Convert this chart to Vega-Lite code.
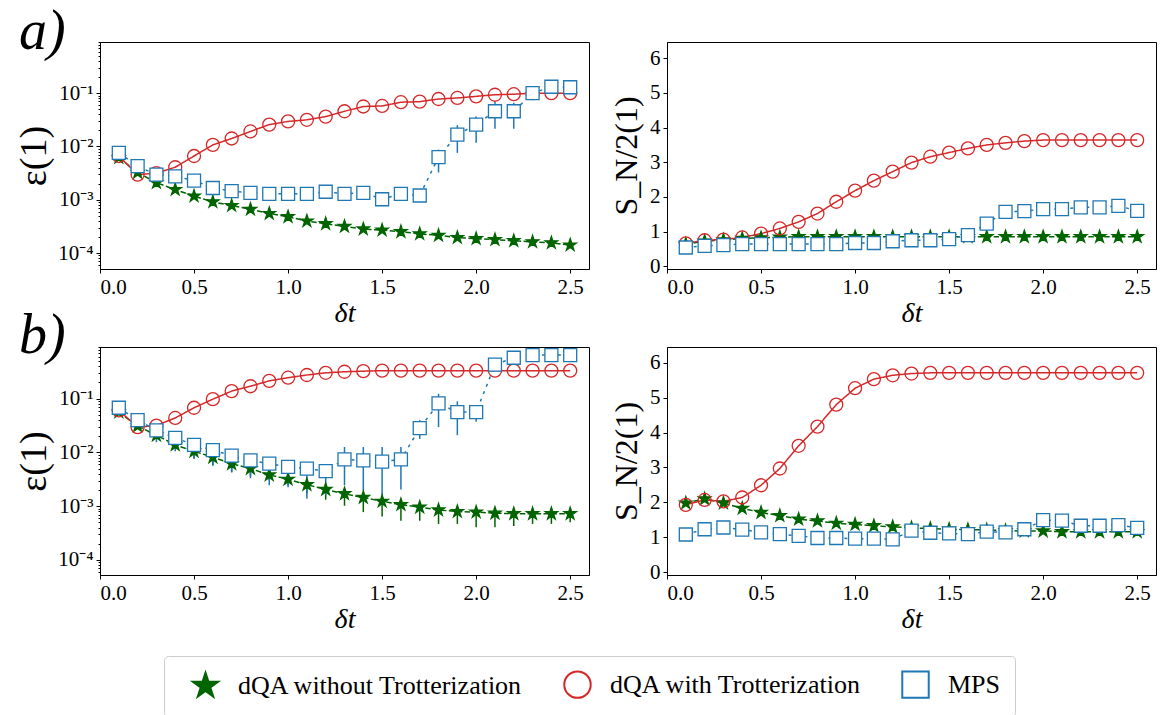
{
  "$schema": "https://vega.github.io/schema/vega-lite/v6.json",
  "background": "white",
  "padding": {"left": 15, "top": 3, "right": 5, "bottom": 2},
  "config": {
    "view": {"stroke": "#000", "strokeWidth": 1},
    "axis": {"labelFont": "Liberation Serif", "labelFontSize": 21, "labelColor": "#000", "labelOverlap": false, "labelSeparation": 0, "labelBound": false, "titleFont": "Liberation Serif", "titleColor": "#000", "titleFontWeight": "normal", "domainColor": "#000", "tickColor": "#000", "tickSize": 4, "grid": false, "labelPadding": 3},
    "legend": {"labelFont": "Liberation Serif"}
  },
  "datasets": {
    "aL": [
      {"s":"noTrot","x":0.1,"y":0.00617},{"s":"noTrot","x":0.2,"y":0.00324},{"s":"noTrot","x":0.3,"y":0.00209},{"s":"noTrot","x":0.4,"y":0.00155},{"s":"noTrot","x":0.5,"y":0.00117},{"s":"noTrot","x":0.6,"y":0.000912},{"s":"noTrot","x":0.7,"y":0.000776},{"s":"noTrot","x":0.8,"y":0.000661},{"s":"noTrot","x":0.9,"y":0.00055},{"s":"noTrot","x":1.0,"y":0.000479},{"s":"noTrot","x":1.1,"y":0.000398},{"s":"noTrot","x":1.2,"y":0.000355},{"s":"noTrot","x":1.3,"y":0.000316},{"s":"noTrot","x":1.4,"y":0.000282},{"s":"noTrot","x":1.5,"y":0.000269},{"s":"noTrot","x":1.6,"y":0.000251},{"s":"noTrot","x":1.7,"y":0.000229},{"s":"noTrot","x":1.8,"y":0.000214},{"s":"noTrot","x":1.9,"y":0.000195},{"s":"noTrot","x":2.0,"y":0.000186},{"s":"noTrot","x":2.1,"y":0.000178},{"s":"noTrot","x":2.2,"y":0.00017},{"s":"noTrot","x":2.3,"y":0.000162},{"s":"noTrot","x":2.4,"y":0.000155},{"s":"noTrot","x":2.5,"y":0.000141},
      {"s":"Trot","x":0.1,"y":0.00661},{"s":"Trot","x":0.2,"y":0.00295},{"s":"Trot","x":0.3,"y":0.00316},{"s":"Trot","x":0.4,"y":0.00407},{"s":"Trot","x":0.5,"y":0.00661},{"s":"Trot","x":0.6,"y":0.0107},{"s":"Trot","x":0.7,"y":0.0141},{"s":"Trot","x":0.8,"y":0.0191},{"s":"Trot","x":0.9,"y":0.0257},{"s":"Trot","x":1.0,"y":0.0295},{"s":"Trot","x":1.1,"y":0.0316},{"s":"Trot","x":1.2,"y":0.0363},{"s":"Trot","x":1.3,"y":0.0457},{"s":"Trot","x":1.4,"y":0.0562},{"s":"Trot","x":1.5,"y":0.0575},{"s":"Trot","x":1.6,"y":0.0676},{"s":"Trot","x":1.7,"y":0.0692},{"s":"Trot","x":1.8,"y":0.0776},{"s":"Trot","x":1.9,"y":0.0813},{"s":"Trot","x":2.0,"y":0.0871},{"s":"Trot","x":2.1,"y":0.0933},{"s":"Trot","x":2.2,"y":0.0955},{"s":"Trot","x":2.3,"y":0.1},{"s":"Trot","x":2.4,"y":0.1},{"s":"Trot","x":2.5,"y":0.1},
      {"s":"MPS","x":0.1,"y":0.00759},{"s":"MPS","x":0.2,"y":0.00427},{"s":"MPS","x":0.3,"y":0.00295},{"s":"MPS","x":0.4,"y":0.00275},{"s":"MPS","x":0.5,"y":0.00229},{"s":"MPS","x":0.6,"y":0.00166},{"s":"MPS","x":0.7,"y":0.00145},{"s":"MPS","x":0.8,"y":0.00135},{"s":"MPS","x":0.9,"y":0.00129},{"s":"MPS","x":1.0,"y":0.00129},{"s":"MPS","x":1.1,"y":0.00129},{"s":"MPS","x":1.2,"y":0.00141},{"s":"MPS","x":1.3,"y":0.00129},{"s":"MPS","x":1.4,"y":0.00135},{"s":"MPS","x":1.5,"y":0.00102},{"s":"MPS","x":1.6,"y":0.00129},{"s":"MPS","x":1.7,"y":0.0012},{"s":"MPS","x":1.8,"y":0.00631,"lo":0.00324,"hi":0.00871},{"s":"MPS","x":1.9,"y":0.0166,"lo":0.00759,"hi":0.0251},{"s":"MPS","x":2.0,"y":0.0257,"lo":0.0117,"hi":0.0363},{"s":"MPS","x":2.1,"y":0.0457,"lo":0.0214,"hi":0.0692},{"s":"MPS","x":2.2,"y":0.0457,"lo":0.0214,"hi":0.0661},{"s":"MPS","x":2.3,"y":0.1},{"s":"MPS","x":2.4,"y":0.132},{"s":"MPS","x":2.5,"y":0.129}
    ],
    "aR": [
      {"s":"noTrot","x":0.1,"y":0.64},{"s":"noTrot","x":0.2,"y":0.72},{"s":"noTrot","x":0.3,"y":0.76},{"s":"noTrot","x":0.4,"y":0.8},{"s":"noTrot","x":0.5,"y":0.82},{"s":"noTrot","x":0.6,"y":0.84},{"s":"noTrot","x":0.7,"y":0.85},{"s":"noTrot","x":0.8,"y":0.85},{"s":"noTrot","x":0.9,"y":0.85},{"s":"noTrot","x":1.0,"y":0.85},{"s":"noTrot","x":1.1,"y":0.85},{"s":"noTrot","x":1.2,"y":0.85},{"s":"noTrot","x":1.3,"y":0.85},{"s":"noTrot","x":1.4,"y":0.85},{"s":"noTrot","x":1.5,"y":0.85},{"s":"noTrot","x":1.6,"y":0.85},{"s":"noTrot","x":1.7,"y":0.85},{"s":"noTrot","x":1.8,"y":0.85},{"s":"noTrot","x":1.9,"y":0.85},{"s":"noTrot","x":2.0,"y":0.85},{"s":"noTrot","x":2.1,"y":0.85},{"s":"noTrot","x":2.2,"y":0.85},{"s":"noTrot","x":2.3,"y":0.85},{"s":"noTrot","x":2.4,"y":0.85},{"s":"noTrot","x":2.5,"y":0.85},
      {"s":"Trot","x":0.1,"y":0.66},{"s":"Trot","x":0.2,"y":0.75},{"s":"Trot","x":0.3,"y":0.77},{"s":"Trot","x":0.4,"y":0.83},{"s":"Trot","x":0.5,"y":0.94},{"s":"Trot","x":0.6,"y":1.09},{"s":"Trot","x":0.7,"y":1.28},{"s":"Trot","x":0.8,"y":1.52},{"s":"Trot","x":0.9,"y":1.86},{"s":"Trot","x":1.0,"y":2.18},{"s":"Trot","x":1.1,"y":2.47},{"s":"Trot","x":1.2,"y":2.73},{"s":"Trot","x":1.3,"y":2.99},{"s":"Trot","x":1.4,"y":3.16},{"s":"Trot","x":1.5,"y":3.28},{"s":"Trot","x":1.6,"y":3.4},{"s":"Trot","x":1.7,"y":3.5},{"s":"Trot","x":1.8,"y":3.56},{"s":"Trot","x":1.9,"y":3.61},{"s":"Trot","x":2.0,"y":3.64},{"s":"Trot","x":2.1,"y":3.64},{"s":"Trot","x":2.2,"y":3.64},{"s":"Trot","x":2.3,"y":3.64},{"s":"Trot","x":2.4,"y":3.64},{"s":"Trot","x":2.5,"y":3.64},
      {"s":"MPS","x":0.1,"y":0.54},{"s":"MPS","x":0.2,"y":0.59},{"s":"MPS","x":0.3,"y":0.61},{"s":"MPS","x":0.4,"y":0.64},{"s":"MPS","x":0.5,"y":0.64},{"s":"MPS","x":0.6,"y":0.64},{"s":"MPS","x":0.7,"y":0.64},{"s":"MPS","x":0.8,"y":0.64},{"s":"MPS","x":0.9,"y":0.64},{"s":"MPS","x":1.0,"y":0.67},{"s":"MPS","x":1.1,"y":0.67},{"s":"MPS","x":1.2,"y":0.72},{"s":"MPS","x":1.3,"y":0.75},{"s":"MPS","x":1.4,"y":0.75},{"s":"MPS","x":1.5,"y":0.78},{"s":"MPS","x":1.6,"y":0.9},{"s":"MPS","x":1.7,"y":1.23},{"s":"MPS","x":1.8,"y":1.57},{"s":"MPS","x":1.9,"y":1.59},{"s":"MPS","x":2.0,"y":1.65},{"s":"MPS","x":2.1,"y":1.65},{"s":"MPS","x":2.2,"y":1.7},{"s":"MPS","x":2.3,"y":1.7},{"s":"MPS","x":2.4,"y":1.74},{"s":"MPS","x":2.5,"y":1.6}
    ],
    "bL": [
      {"s":"noTrot","x":0.1,"y":0.0562},{"s":"noTrot","x":0.2,"y":0.0309},{"s":"noTrot","x":0.3,"y":0.0209},{"s":"noTrot","x":0.4,"y":0.0138},{"s":"noTrot","x":0.5,"y":0.0105,"lo":0.00759,"hi":0.0105},{"s":"noTrot","x":0.6,"y":0.00813,"lo":0.00575,"hi":0.00813},{"s":"noTrot","x":0.7,"y":0.00617,"lo":0.00427,"hi":0.00617},{"s":"noTrot","x":0.8,"y":0.00501,"lo":0.00363,"hi":0.00501},{"s":"noTrot","x":0.9,"y":0.0038,"lo":0.00302,"hi":0.0038},{"s":"noTrot","x":1.0,"y":0.00316,"lo":0.00245,"hi":0.00316},{"s":"noTrot","x":1.1,"y":0.00251,"lo":0.0017,"hi":0.00251},{"s":"noTrot","x":1.2,"y":0.00204,"lo":0.00132,"hi":0.00204},{"s":"noTrot","x":1.3,"y":0.0017,"lo":0.00102,"hi":0.0017},{"s":"noTrot","x":1.4,"y":0.00145,"lo":0.000776,"hi":0.00145},{"s":"noTrot","x":1.5,"y":0.00123,"lo":0.000646,"hi":0.00123},{"s":"noTrot","x":1.6,"y":0.00107,"lo":0.000537,"hi":0.00107},{"s":"noTrot","x":1.7,"y":0.000955,"lo":0.000537,"hi":0.000955},{"s":"noTrot","x":1.8,"y":0.000851,"lo":0.000468,"hi":0.000851},{"s":"noTrot","x":1.9,"y":0.000794,"lo":0.000468,"hi":0.000794},{"s":"noTrot","x":2.0,"y":0.000776,"lo":0.000407,"hi":0.000776},{"s":"noTrot","x":2.1,"y":0.000741,"lo":0.000407,"hi":0.000741},{"s":"noTrot","x":2.2,"y":0.000724,"lo":0.000427,"hi":0.000724},{"s":"noTrot","x":2.3,"y":0.000724,"lo":0.000468,"hi":0.000724},{"s":"noTrot","x":2.4,"y":0.000724,"lo":0.000468,"hi":0.000724},{"s":"noTrot","x":2.5,"y":0.000724,"lo":0.000501,"hi":0.000724},
      {"s":"Trot","x":0.1,"y":0.0603},{"s":"Trot","x":0.2,"y":0.0295},{"s":"Trot","x":0.3,"y":0.0316},{"s":"Trot","x":0.4,"y":0.0437},{"s":"Trot","x":0.5,"y":0.0676},{"s":"Trot","x":0.6,"y":0.0977},{"s":"Trot","x":0.7,"y":0.138},{"s":"Trot","x":0.8,"y":0.17},{"s":"Trot","x":0.9,"y":0.214},{"s":"Trot","x":1.0,"y":0.245},{"s":"Trot","x":1.1,"y":0.275},{"s":"Trot","x":1.2,"y":0.302},{"s":"Trot","x":1.3,"y":0.316},{"s":"Trot","x":1.4,"y":0.324},{"s":"Trot","x":1.5,"y":0.331},{"s":"Trot","x":1.6,"y":0.331},{"s":"Trot","x":1.7,"y":0.331},{"s":"Trot","x":1.8,"y":0.331},{"s":"Trot","x":1.9,"y":0.331},{"s":"Trot","x":2.0,"y":0.331},{"s":"Trot","x":2.1,"y":0.331},{"s":"Trot","x":2.2,"y":0.331},{"s":"Trot","x":2.3,"y":0.331},{"s":"Trot","x":2.4,"y":0.331},{"s":"Trot","x":2.5,"y":0.331},
      {"s":"MPS","x":0.1,"y":0.0676},{"s":"MPS","x":0.2,"y":0.0398},{"s":"MPS","x":0.3,"y":0.0257,"lo":0.0155,"hi":0.0257},{"s":"MPS","x":0.4,"y":0.0186,"lo":0.0105,"hi":0.0186},{"s":"MPS","x":0.5,"y":0.0138,"lo":0.00776,"hi":0.0138},{"s":"MPS","x":0.6,"y":0.011,"lo":0.00562,"hi":0.011},{"s":"MPS","x":0.7,"y":0.00871,"lo":0.00427,"hi":0.00871},{"s":"MPS","x":0.8,"y":0.00708,"lo":0.00331,"hi":0.00708},{"s":"MPS","x":0.9,"y":0.00617,"lo":0.00245,"hi":0.00617},{"s":"MPS","x":1.0,"y":0.00537,"lo":0.00224,"hi":0.00537},{"s":"MPS","x":1.1,"y":0.00501,"lo":0.00138,"hi":0.00501},{"s":"MPS","x":1.2,"y":0.00447,"lo":0.00162,"hi":0.00447},{"s":"MPS","x":1.3,"y":0.00741,"lo":0.00245,"hi":0.0126},{"s":"MPS","x":1.4,"y":0.00708,"lo":0.00195,"hi":0.0126},{"s":"MPS","x":1.5,"y":0.00676,"lo":0.00158,"hi":0.0126},{"s":"MPS","x":1.6,"y":0.00741,"lo":0.00204,"hi":0.0126},{"s":"MPS","x":1.7,"y":0.0282,"lo":0.0178,"hi":0.0398},{"s":"MPS","x":1.8,"y":0.0813,"lo":0.0295,"hi":0.123},{"s":"MPS","x":1.9,"y":0.0562,"lo":0.0209,"hi":0.0891},{"s":"MPS","x":2.0,"y":0.0562,"lo":0.0372,"hi":0.0759},{"s":"MPS","x":2.1,"y":0.427},{"s":"MPS","x":2.2,"y":0.575},{"s":"MPS","x":2.3,"y":0.646},{"s":"MPS","x":2.4,"y":0.646},{"s":"MPS","x":2.5,"y":0.646}
    ],
    "bR": [
      {"s":"noTrot","x":0.1,"y":1.98},{"s":"noTrot","x":0.2,"y":2.1},{"s":"noTrot","x":0.3,"y":1.98},{"s":"noTrot","x":0.4,"y":1.83},{"s":"noTrot","x":0.5,"y":1.71},{"s":"noTrot","x":0.6,"y":1.62},{"s":"noTrot","x":0.7,"y":1.52},{"s":"noTrot","x":0.8,"y":1.47},{"s":"noTrot","x":0.9,"y":1.4},{"s":"noTrot","x":1.0,"y":1.37},{"s":"noTrot","x":1.1,"y":1.33},{"s":"noTrot","x":1.2,"y":1.3},{"s":"noTrot","x":1.3,"y":1.27},{"s":"noTrot","x":1.4,"y":1.25},{"s":"noTrot","x":1.5,"y":1.23},{"s":"noTrot","x":1.6,"y":1.22},{"s":"noTrot","x":1.7,"y":1.21},{"s":"noTrot","x":1.8,"y":1.19},{"s":"noTrot","x":1.9,"y":1.18},{"s":"noTrot","x":2.0,"y":1.18},{"s":"noTrot","x":2.1,"y":1.16},{"s":"noTrot","x":2.2,"y":1.16},{"s":"noTrot","x":2.3,"y":1.16},{"s":"noTrot","x":2.4,"y":1.16},{"s":"noTrot","x":2.5,"y":1.16},
      {"s":"Trot","x":0.1,"y":1.93},{"s":"Trot","x":0.2,"y":2.07},{"s":"Trot","x":0.3,"y":2.03},{"s":"Trot","x":0.4,"y":2.14},{"s":"Trot","x":0.5,"y":2.49},{"s":"Trot","x":0.6,"y":2.97},{"s":"Trot","x":0.7,"y":3.62},{"s":"Trot","x":0.8,"y":4.17},{"s":"Trot","x":0.9,"y":4.8},{"s":"Trot","x":1.0,"y":5.27},{"s":"Trot","x":1.1,"y":5.53},{"s":"Trot","x":1.2,"y":5.64},{"s":"Trot","x":1.3,"y":5.69},{"s":"Trot","x":1.4,"y":5.71},{"s":"Trot","x":1.5,"y":5.71},{"s":"Trot","x":1.6,"y":5.71},{"s":"Trot","x":1.7,"y":5.71},{"s":"Trot","x":1.8,"y":5.71},{"s":"Trot","x":1.9,"y":5.71},{"s":"Trot","x":2.0,"y":5.71},{"s":"Trot","x":2.1,"y":5.71},{"s":"Trot","x":2.2,"y":5.71},{"s":"Trot","x":2.3,"y":5.71},{"s":"Trot","x":2.4,"y":5.71},{"s":"Trot","x":2.5,"y":5.71},
      {"s":"MPS","x":0.1,"y":1.08},{"s":"MPS","x":0.2,"y":1.23},{"s":"MPS","x":0.3,"y":1.28},{"s":"MPS","x":0.4,"y":1.22},{"s":"MPS","x":0.5,"y":1.14},{"s":"MPS","x":0.6,"y":1.09},{"s":"MPS","x":0.7,"y":1.04},{"s":"MPS","x":0.8,"y":0.98},{"s":"MPS","x":0.9,"y":0.98},{"s":"MPS","x":1.0,"y":0.96},{"s":"MPS","x":1.1,"y":0.96},{"s":"MPS","x":1.2,"y":0.94},{"s":"MPS","x":1.3,"y":1.19},{"s":"MPS","x":1.4,"y":1.13},{"s":"MPS","x":1.5,"y":1.11},{"s":"MPS","x":1.6,"y":1.09},{"s":"MPS","x":1.7,"y":1.16},{"s":"MPS","x":1.8,"y":1.14},{"s":"MPS","x":1.9,"y":1.23},{"s":"MPS","x":2.0,"y":1.49},{"s":"MPS","x":2.1,"y":1.48},{"s":"MPS","x":2.2,"y":1.33},{"s":"MPS","x":2.3,"y":1.33},{"s":"MPS","x":2.4,"y":1.35},{"s":"MPS","x":2.5,"y":1.27}
    ]
  },
  "columns": 2,
  "bounds": "flush",
  "spacing": {"row": 78, "column": 78},
  "concat": [
    {
      "width": 489, "height": 227,
      "data": {"name": "aL"},
      "title": {"text": "a)", "anchor": "start", "frame": "group", "orient": "top", "font": "Liberation Serif", "fontStyle": "italic", "fontSize": 56, "fontWeight": "normal", "color": "#000", "baseline": "alphabetic", "offset": -4, "dx": -81, "dy": 59},
      "resolve": {"axis": {"y": "independent"}},
      "encoding": {"x": {"field": "x", "type": "quantitative", "scale": {"domain": [0, 2.6], "nice": false, "zero": false}, "axis": {"values": [0, 0.5, 1, 1.5, 2, 2.5], "format": ".1f", "title": "δt", "titleFontSize": 28, "titleFontStyle": "italic", "titlePadding": 2}}},
      "layer": [
        {"mark": {"type": "line"}, "encoding": {
          "y": {"field": "y", "type": "quantitative", "scale": {"type": "log", "domain": [0.0000501, 0.912], "nice": false}, "axis": {"orient": "left", "values": [0.1, 0.01, 0.001, 0.0001], "labelExpr": "datum.value > 0.05 ? '10⁻¹' : datum.value > 0.005 ? '10⁻²' : datum.value > 0.0005 ? '10⁻³' : '10⁻⁴'", "title": "ε(1)", "titleFontSize": 38, "titlePadding": 4}},
          "stroke": {"field": "s", "type": "nominal", "scale": {"domain": ["noTrot", "Trot", "MPS"], "range": ["#006400", "#d62728", "#1f77b4"]}},
          "strokeDash": {"field": "s", "type": "nominal", "scale": {"domain": ["noTrot", "Trot", "MPS", "_"], "range": [[5.5, 2.4], [1, 0], [3, 5], [1, 0]]}, "legend": null},
          "strokeWidth": {"field": "s", "type": "ordinal", "scale": {"domain": ["noTrot", "Trot", "MPS", "_"], "range": [1.5, 1.5, 3, 1]}, "legend": null}
        }},
        {"transform": [{"filter": "isValid(datum.lo)"}], "mark": {"type": "rule"}, "encoding": {
          "y": {"field": "lo", "type": "quantitative", "scale": {"type": "log", "domain": [0.0000501, 0.912], "nice": false}, "axis": null},
          "y2": {"field": "hi"},
          "stroke": {"field": "s", "type": "nominal", "scale": {"domain": ["noTrot", "Trot", "MPS"], "range": ["#006400", "#d62728", "#1f77b4"]}},
          "strokeWidth": {"field": "s", "type": "ordinal", "scale": {"domain": ["noTrot", "Trot", "MPS", "_"], "range": [1.5, 1.5, 3, 1]}, "legend": null}
        }},
        {"mark": {"type": "point", "size": 169, "strokeWidth": 1.3, "opacity": 1}, "encoding": {
          "y": {"field": "y", "type": "quantitative", "scale": {"type": "log", "domain": [0.0000501, 0.912], "nice": false}, "axis": {"orient": "left", "values": [0.00006, 0.00007, 0.00008, 0.00009, 0.0002, 0.0003, 0.0004, 0.0005, 0.0006, 0.0007, 0.0008, 0.0009, 0.002, 0.003, 0.004, 0.005, 0.006, 0.007, 0.008, 0.009, 0.02, 0.03, 0.04, 0.05, 0.06, 0.07, 0.08, 0.09, 0.2, 0.3, 0.4, 0.5, 0.6, 0.7, 0.8, 0.9], "labels": false, "domain": false, "tickSize": 2, "title": null}},
          "shape": {"field": "s", "type": "nominal", "scale": {"domain": ["noTrot", "Trot", "MPS"], "range": ["M0,-1L0.225,-0.309L0.951,-0.309L0.363,0.118L0.588,0.809L0,0.382L-0.588,0.809L-0.363,0.118L-0.951,-0.309L-0.225,-0.309Z", "circle", "square"]},
            "legend": {"title": null, "orient": "none", "legendX": 64, "legendY": 614, "direction": "horizontal", "columns": 3, "labelFont": "Liberation Serif", "labelFontSize": 26, "labelColor": "#000", "labelLimit": 500, "labelExpr": "datum.value == 'noTrot' ? 'dQA without Trotterization' : datum.value == 'Trot' ? 'dQA with Trotterization' : 'MPS'", "strokeColor": "#cccccc", "fillColor": "#ffffff", "cornerRadius": 4, "padding": 14, "symbolSize": 700, "symbolStrokeWidth": 2, "symbolOffset": 13, "labelOffset": 18, "columnPadding": 26}},
          "stroke": {"field": "s", "type": "nominal", "scale": {"domain": ["noTrot", "Trot", "MPS"], "range": ["#006400", "#d62728", "#1f77b4"]}},
          "fill": {"field": "s", "type": "nominal", "scale": {"domain": ["noTrot", "Trot", "MPS"], "range": ["#006400", "transparent", "#ffffff"]}}
        }}
      ]
    },
    {
      "width": 489, "height": 227,
      "data": {"name": "aR"},
      "encoding": {"x": {"field": "x", "type": "quantitative", "scale": {"domain": [0, 2.6], "nice": false, "zero": false}, "axis": {"values": [0, 0.5, 1, 1.5, 2, 2.5], "format": ".1f", "title": "δt", "titleFontSize": 28, "titleFontStyle": "italic", "titlePadding": 2}}},
      "layer": [
        {"mark": {"type": "line"}, "encoding": {
          "y": {"field": "y", "type": "quantitative", "scale": {"domain": [-0.08, 6.47], "nice": false, "zero": false}, "axis": {"values": [0, 1, 2, 3, 4, 5, 6], "tickCount": 7, "labelOverlap": false, "title": "S_N/2(1)", "titleFontSize": 32, "titlePadding": 6}},
          "stroke": {"field": "s", "type": "nominal", "scale": {"domain": ["noTrot", "Trot", "MPS"], "range": ["#006400", "#d62728", "#1f77b4"]}},
          "strokeDash": {"field": "s", "type": "nominal", "scale": {"domain": ["noTrot", "Trot", "MPS", "_"], "range": [[5.5, 2.4], [1, 0], [3, 5], [1, 0]]}, "legend": null},
          "strokeWidth": {"field": "s", "type": "ordinal", "scale": {"domain": ["noTrot", "Trot", "MPS", "_"], "range": [1.5, 1.5, 3, 1]}, "legend": null}
        }},
        {"mark": {"type": "point", "size": 169, "strokeWidth": 1.3, "opacity": 1}, "encoding": {
          "y": {"field": "y", "type": "quantitative", "scale": {"domain": [-0.08, 6.47], "nice": false, "zero": false}, "axis": {"values": [0, 1, 2, 3, 4, 5, 6], "tickCount": 7, "labelOverlap": false, "title": "S_N/2(1)", "titleFontSize": 32, "titlePadding": 6}},
          "shape": {"field": "s", "type": "nominal", "scale": {"domain": ["noTrot", "Trot", "MPS"], "range": ["M0,-1L0.225,-0.309L0.951,-0.309L0.363,0.118L0.588,0.809L0,0.382L-0.588,0.809L-0.363,0.118L-0.951,-0.309L-0.225,-0.309Z", "circle", "square"]},
            "legend": {"title": null, "orient": "none", "legendX": 64, "legendY": 614, "direction": "horizontal", "columns": 3, "labelFont": "Liberation Serif", "labelFontSize": 26, "labelColor": "#000", "labelLimit": 500, "labelExpr": "datum.value == 'noTrot' ? 'dQA without Trotterization' : datum.value == 'Trot' ? 'dQA with Trotterization' : 'MPS'", "strokeColor": "#cccccc", "fillColor": "#ffffff", "cornerRadius": 4, "padding": 14, "symbolSize": 700, "symbolStrokeWidth": 2, "symbolOffset": 13, "labelOffset": 18, "columnPadding": 26}},
          "stroke": {"field": "s", "type": "nominal", "scale": {"domain": ["noTrot", "Trot", "MPS"], "range": ["#006400", "#d62728", "#1f77b4"]}},
          "fill": {"field": "s", "type": "nominal", "scale": {"domain": ["noTrot", "Trot", "MPS"], "range": ["#006400", "transparent", "#ffffff"]}}
        }}
      ]
    },
    {
      "width": 489, "height": 228,
      "data": {"name": "bL"},
      "title": {"text": "b)", "anchor": "start", "frame": "group", "orient": "top", "font": "Liberation Serif", "fontStyle": "italic", "fontSize": 56, "fontWeight": "normal", "color": "#000", "baseline": "alphabetic", "offset": -4, "dx": -81, "dy": 59},
      "resolve": {"axis": {"y": "independent"}},
      "encoding": {"x": {"field": "x", "type": "quantitative", "scale": {"domain": [0, 2.6], "nice": false, "zero": false}, "axis": {"values": [0, 0.5, 1, 1.5, 2, 2.5], "format": ".1f", "title": "δt", "titleFontSize": 28, "titleFontStyle": "italic", "titlePadding": 2}}},
      "layer": [
        {"mark": {"type": "line"}, "encoding": {
          "y": {"field": "y", "type": "quantitative", "scale": {"type": "log", "domain": [0.0000525, 0.912], "nice": false}, "axis": {"orient": "left", "values": [0.1, 0.01, 0.001, 0.0001], "labelExpr": "datum.value > 0.05 ? '10⁻¹' : datum.value > 0.005 ? '10⁻²' : datum.value > 0.0005 ? '10⁻³' : '10⁻⁴'", "title": "ε(1)", "titleFontSize": 38, "titlePadding": 4}},
          "stroke": {"field": "s", "type": "nominal", "scale": {"domain": ["noTrot", "Trot", "MPS"], "range": ["#006400", "#d62728", "#1f77b4"]}},
          "strokeDash": {"field": "s", "type": "nominal", "scale": {"domain": ["noTrot", "Trot", "MPS", "_"], "range": [[5.5, 2.4], [1, 0], [3, 5], [1, 0]]}, "legend": null},
          "strokeWidth": {"field": "s", "type": "ordinal", "scale": {"domain": ["noTrot", "Trot", "MPS", "_"], "range": [1.5, 1.5, 3, 1]}, "legend": null}
        }},
        {"transform": [{"filter": "isValid(datum.lo)"}], "mark": {"type": "rule"}, "encoding": {
          "y": {"field": "lo", "type": "quantitative", "scale": {"type": "log", "domain": [0.0000525, 0.912], "nice": false}, "axis": null},
          "y2": {"field": "hi"},
          "stroke": {"field": "s", "type": "nominal", "scale": {"domain": ["noTrot", "Trot", "MPS"], "range": ["#006400", "#d62728", "#1f77b4"]}},
          "strokeWidth": {"field": "s", "type": "ordinal", "scale": {"domain": ["noTrot", "Trot", "MPS", "_"], "range": [1.5, 1.5, 3, 1]}, "legend": null}
        }},
        {"mark": {"type": "point", "size": 169, "strokeWidth": 1.3, "opacity": 1}, "encoding": {
          "y": {"field": "y", "type": "quantitative", "scale": {"type": "log", "domain": [0.0000525, 0.912], "nice": false}, "axis": {"orient": "left", "values": [0.00006, 0.00007, 0.00008, 0.00009, 0.0002, 0.0003, 0.0004, 0.0005, 0.0006, 0.0007, 0.0008, 0.0009, 0.002, 0.003, 0.004, 0.005, 0.006, 0.007, 0.008, 0.009, 0.02, 0.03, 0.04, 0.05, 0.06, 0.07, 0.08, 0.09, 0.2, 0.3, 0.4, 0.5, 0.6, 0.7, 0.8, 0.9], "labels": false, "domain": false, "tickSize": 2, "title": null}},
          "shape": {"field": "s", "type": "nominal", "scale": {"domain": ["noTrot", "Trot", "MPS"], "range": ["M0,-1L0.225,-0.309L0.951,-0.309L0.363,0.118L0.588,0.809L0,0.382L-0.588,0.809L-0.363,0.118L-0.951,-0.309L-0.225,-0.309Z", "circle", "square"]},
            "legend": {"title": null, "orient": "none", "legendX": 64, "legendY": 614, "direction": "horizontal", "columns": 3, "labelFont": "Liberation Serif", "labelFontSize": 26, "labelColor": "#000", "labelLimit": 500, "labelExpr": "datum.value == 'noTrot' ? 'dQA without Trotterization' : datum.value == 'Trot' ? 'dQA with Trotterization' : 'MPS'", "strokeColor": "#cccccc", "fillColor": "#ffffff", "cornerRadius": 4, "padding": 14, "symbolSize": 700, "symbolStrokeWidth": 2, "symbolOffset": 13, "labelOffset": 18, "columnPadding": 26}},
          "stroke": {"field": "s", "type": "nominal", "scale": {"domain": ["noTrot", "Trot", "MPS"], "range": ["#006400", "#d62728", "#1f77b4"]}},
          "fill": {"field": "s", "type": "nominal", "scale": {"domain": ["noTrot", "Trot", "MPS"], "range": ["#006400", "transparent", "#ffffff"]}}
        }}
      ]
    },
    {
      "width": 489, "height": 228,
      "data": {"name": "bR"},
      "encoding": {"x": {"field": "x", "type": "quantitative", "scale": {"domain": [0, 2.6], "nice": false, "zero": false}, "axis": {"values": [0, 0.5, 1, 1.5, 2, 2.5], "format": ".1f", "title": "δt", "titleFontSize": 28, "titleFontStyle": "italic", "titlePadding": 2}}},
      "layer": [
        {"mark": {"type": "line"}, "encoding": {
          "y": {"field": "y", "type": "quantitative", "scale": {"domain": [-0.08, 6.45], "nice": false, "zero": false}, "axis": {"values": [0, 1, 2, 3, 4, 5, 6], "tickCount": 7, "labelOverlap": false, "title": "S_N/2(1)", "titleFontSize": 32, "titlePadding": 6}},
          "stroke": {"field": "s", "type": "nominal", "scale": {"domain": ["noTrot", "Trot", "MPS"], "range": ["#006400", "#d62728", "#1f77b4"]}},
          "strokeDash": {"field": "s", "type": "nominal", "scale": {"domain": ["noTrot", "Trot", "MPS", "_"], "range": [[5.5, 2.4], [1, 0], [3, 5], [1, 0]]}, "legend": null},
          "strokeWidth": {"field": "s", "type": "ordinal", "scale": {"domain": ["noTrot", "Trot", "MPS", "_"], "range": [1.5, 1.5, 3, 1]}, "legend": null}
        }},
        {"mark": {"type": "point", "size": 169, "strokeWidth": 1.3, "opacity": 1}, "encoding": {
          "y": {"field": "y", "type": "quantitative", "scale": {"domain": [-0.08, 6.45], "nice": false, "zero": false}, "axis": {"values": [0, 1, 2, 3, 4, 5, 6], "tickCount": 7, "labelOverlap": false, "title": "S_N/2(1)", "titleFontSize": 32, "titlePadding": 6}},
          "shape": {"field": "s", "type": "nominal", "scale": {"domain": ["noTrot", "Trot", "MPS"], "range": ["M0,-1L0.225,-0.309L0.951,-0.309L0.363,0.118L0.588,0.809L0,0.382L-0.588,0.809L-0.363,0.118L-0.951,-0.309L-0.225,-0.309Z", "circle", "square"]},
            "legend": {"title": null, "orient": "none", "legendX": 64, "legendY": 614, "direction": "horizontal", "columns": 3, "labelFont": "Liberation Serif", "labelFontSize": 26, "labelColor": "#000", "labelLimit": 500, "labelExpr": "datum.value == 'noTrot' ? 'dQA without Trotterization' : datum.value == 'Trot' ? 'dQA with Trotterization' : 'MPS'", "strokeColor": "#cccccc", "fillColor": "#ffffff", "cornerRadius": 4, "padding": 14, "symbolSize": 700, "symbolStrokeWidth": 2, "symbolOffset": 13, "labelOffset": 18, "columnPadding": 26}},
          "stroke": {"field": "s", "type": "nominal", "scale": {"domain": ["noTrot", "Trot", "MPS"], "range": ["#006400", "#d62728", "#1f77b4"]}},
          "fill": {"field": "s", "type": "nominal", "scale": {"domain": ["noTrot", "Trot", "MPS"], "range": ["#006400", "transparent", "#ffffff"]}}
        }}
      ]
    }
  ]
}
